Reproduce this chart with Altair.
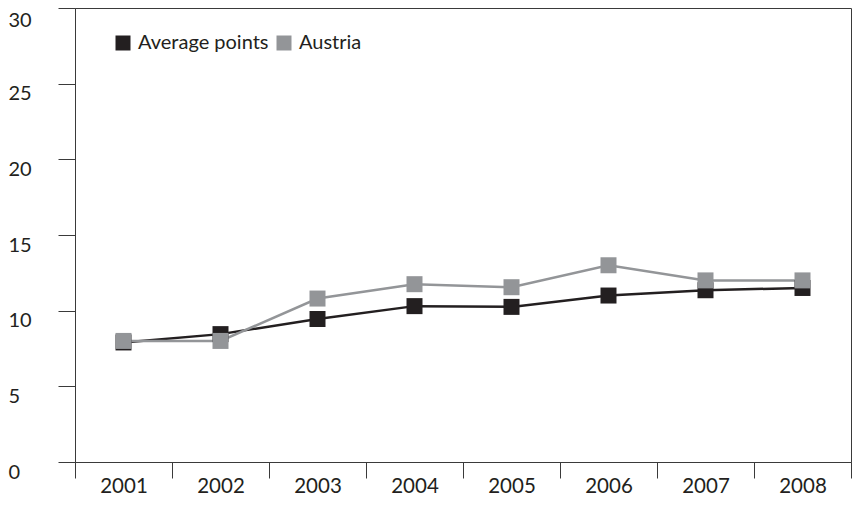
import altair as alt
import pandas as pd

years = ["2001", "2002", "2003", "2004", "2005", "2006", "2007", "2008"]
average_points = [7.9, 8.45, 9.45, 10.3, 10.25, 11.0, 11.35, 11.5]
austria = [8.0, 8.0, 10.8, 11.75, 11.55, 13.0, 12.0, 12.0]
series_names = ["Average points", "Austria"]
series_colors = ["#231f20", "#939598"]
y_ticks = [0, 5, 10, 15, 20, 25, 30]

rows = []
for i, y in enumerate(years):
    rows.append({"year": y, "series": series_names[0], "value": average_points[i], "order": 0})
for i, y in enumerate(years):
    rows.append({"year": y, "series": series_names[1], "value": austria[i], "order": 1})
df = pd.DataFrame(rows)

FONT = "Lato"
TXT = "#231f20"
AX = "#3a3a3a"

x_enc = alt.X(
    "year:N",
    sort=years,
    scale=alt.Scale(paddingInner=0, paddingOuter=0),
    axis=alt.Axis(
        title=None, labelAngle=0, tickBand="extent", tickSize=16,
        labelPadding=8.5, labelBaseline="middle", labelFontSize=20.5,
        labelFont=FONT, labelColor=TXT, domainColor=AX, tickColor=AX,
        grid=False,
    ),
)
y_enc = alt.Y(
    "value:Q",
    scale=alt.Scale(domain=[0, 30], nice=False, zero=True),
    axis=alt.Axis(
        title=None, values=y_ticks, tickSize=17, labelAlign="left",
        labelPadding=50, labelBaseline="top",
        labelOffset=alt.ExprRef(expr="datum.value == 30 ? 2 : 0"),
        labelFontSize=20, labelFont=FONT, labelColor=TXT,
        domainColor=AX, tickColor=AX, grid=False,
    ),
)
color_scale = alt.Scale(domain=series_names, range=series_colors)

base = alt.Chart(df)

lines = base.mark_line(strokeWidth=2.5).encode(
    x=x_enc, y=y_enc,
    color=alt.Color("series:N", scale=color_scale, legend=None),
    order=alt.Order("order:Q"),
    detail="series:N",
)

points = base.mark_point(shape="square", filled=True, size=256, opacity=1).encode(
    x=x_enc, y=y_enc,
    color=alt.Color(
        "series:N", scale=color_scale,
        legend=alt.Legend(
            title=None, orient="none", legendX=38, legendY=25,
            direction="horizontal", symbolType="square", symbolSize=225,
            symbolStrokeWidth=0, labelFontSize=20, labelFont=FONT,
            labelColor=TXT, labelOffset=5, columnPadding=5,
        ),
    ),
    order=alt.Order("order:Q"),
)

chart = (
    alt.layer(lines, points)
    .resolve_legend(color="independent")
    .properties(
        width=776, height=454,
        autosize=alt.AutoSizeParams(type="none"),
        padding={"left": 67, "top": 0, "right": 1, "bottom": 35},
    )
    .configure_view(stroke=AX, strokeWidth=1)
)

chart.save("out.html", embed_options={"renderer": "svg", "actions": False})
